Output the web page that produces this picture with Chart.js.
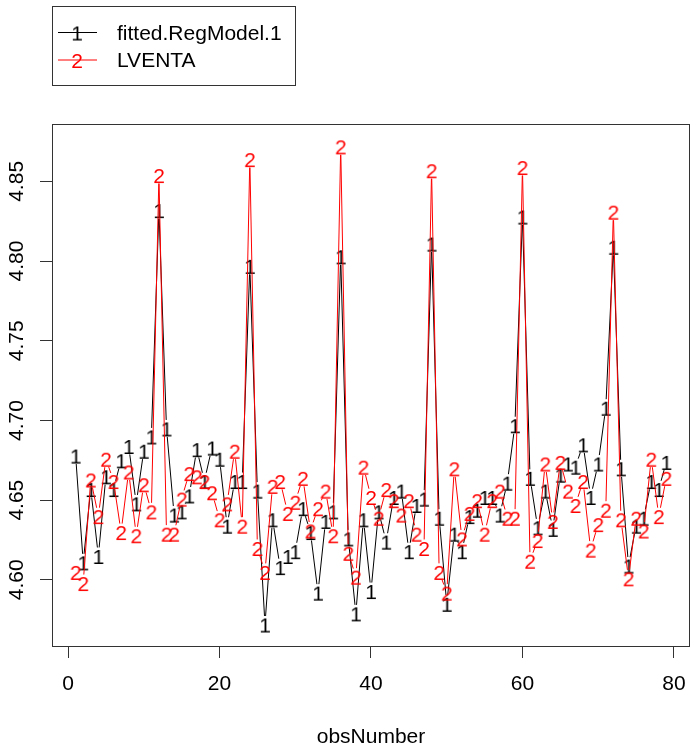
<!DOCTYPE html>
<html>
<head>
<meta charset="utf-8">
<script src="https://cdn.jsdelivr.net/npm/chart.js@4.4.0/dist/chart.umd.min.js"></script>
<style>
html, body { margin: 0; padding: 0; background: #fff; }
#wrap { width: 691px; height: 751px; }
</style>
</head>
<body>
<div id="wrap"><canvas id="grafico" width="691" height="751"></canvas></div>
<script>
// valores (matplot do R, type = "b")
const fitted = [
    4.678, 4.611, 4.657, 4.615, 4.665, 4.657, 4.675, 4.684, 4.648, 4.681,
    4.690, 4.832, 4.695, 4.641, 4.643, 4.653, 4.682, 4.662, 4.683, 4.676,
    4.634, 4.662, 4.662, 4.797, 4.656, 4.572, 4.638, 4.608, 4.615, 4.618,
    4.645, 4.630, 4.592, 4.637, 4.643, 4.803, 4.626, 4.579, 4.638, 4.593,
    4.643, 4.624, 4.652, 4.656, 4.618, 4.647, 4.651, 4.811, 4.639, 4.585,
    4.629, 4.618, 4.640, 4.644, 4.652, 4.652, 4.641, 4.661, 4.697, 4.828,
    4.664, 4.633, 4.656, 4.632, 4.666, 4.673, 4.671, 4.685, 4.652, 4.673,
    4.708, 4.809, 4.670, 4.609, 4.634, 4.639, 4.662, 4.657, 4.674
];
const lventa = [
    4.605, 4.598, 4.663, 4.640, 4.676, 4.662, 4.630, 4.668, 4.628, 4.660,
    4.643, 4.854, 4.629, 4.629, 4.651, 4.667, 4.665, 4.662, 4.655, 4.638,
    4.648, 4.681, 4.634, 4.864, 4.620, 4.605, 4.659, 4.662, 4.642, 4.649,
    4.664, 4.631, 4.645, 4.656, 4.628, 4.872, 4.617, 4.602, 4.671, 4.652,
    4.639, 4.657, 4.650, 4.641, 4.650, 4.629, 4.620, 4.857, 4.605, 4.592,
    4.670, 4.626, 4.642, 4.650, 4.629, 4.650, 4.656, 4.639, 4.639, 4.859,
    4.612, 4.625, 4.673, 4.637, 4.674, 4.656, 4.647, 4.662, 4.619, 4.635,
    4.644, 4.831, 4.638, 4.601, 4.639, 4.631, 4.676, 4.640, 4.664
];
const obsNumber = fitted.map((v, i) => i + 1);
const xTicks = [0, 20, 40, 60, 80];
const yTicks = [4.60, 4.65, 4.70, 4.75, 4.80, 4.85];
const series = ['fitted.RegModel.1', 'LVENTA'];
const symbols = ['1', '2'];
const colors = ['#000000', '#ff0000'];

const familia = '"Liberation Sans", Arial, sans-serif';
const fonte = '21px ' + familia;

// caractere usado como ponto
function simbolo (ch, cor) {
    const c = document.createElement('canvas');
    c.width = 20;
    c.height = 24;
    const g = c.getContext('2d');
    g.font = fonte;
    g.fillStyle = cor;
    g.textAlign = 'center';
    g.textBaseline = 'alphabetic';
    g.fillText(ch, 10, 19.5);
    return c;
}

// linhas com intervalo em volta dos pontos, como o type = "b" do R
const linhasComIntervalo = {
    id: 'linhasComIntervalo',
    beforeDatasetDraw(chart, args) {
        const pts = args.meta.data;
        const ctx = chart.ctx;
        const gap = 8.5;
        ctx.save();
        ctx.strokeStyle = chart.data.datasets[args.index].borderColor;
        ctx.lineWidth = 1;
        ctx.beginPath();
        for (let i = 0; i < pts.length - 1; i++) {
            const a = pts[i], b = pts[i + 1];
            const dx = b.x - a.x, dy = b.y - a.y;
            const d = Math.hypot(dx, dy);
            if (d <= 2 * gap) continue;
            const ux = dx / d, uy = dy / d;
            ctx.moveTo(a.x + ux * gap, a.y + uy * gap);
            ctx.lineTo(b.x - ux * gap, b.y - uy * gap);
        }
        ctx.stroke();
        ctx.restore();
    }
};

const moldura = {
    id: 'moldura',
    afterDraw(chart) {
        const ctx = chart.ctx;
        const area = chart.chartArea;
        const y = chart.scales.y;
        ctx.save();
        ctx.strokeStyle = '#333';
        ctx.lineWidth = 1;
        ctx.strokeRect(area.left + 0.5, area.top + 0.5, area.right - area.left - 1, area.bottom - area.top);

        // rotulos do eixo y, girados
        ctx.fillStyle = '#000';
        ctx.font = fonte;
        ctx.textAlign = 'center';
        ctx.textBaseline = 'alphabetic';
        yTicks.forEach(function(v) {
            ctx.save();
            ctx.translate(23, y.getPixelForValue(v));
            ctx.rotate(-Math.PI / 2);
            ctx.fillText(v.toFixed(2), 0, 0);
            ctx.restore();
        });

        // legenda
        ctx.strokeStyle = '#333';
        ctx.strokeRect(52.5, 6.5, 243, 79);
        series.forEach(function(nome, i) {
            const ly = 32.5 + i * 27.5;
            ctx.strokeStyle = colors[i];
            ctx.beginPath();
            ctx.moveTo(58, ly);
            ctx.lineTo(97, ly);
            ctx.stroke();
            ctx.drawImage(simbolo(symbols[i], colors[i]), 67, ly - 12);
            ctx.fillStyle = '#000';
            ctx.textAlign = 'left';
            ctx.textBaseline = 'middle';
            ctx.fillText(nome, 117, ly + 1.5);
        });
        ctx.restore();
    }
};

const ctx = document.getElementById('grafico');

new Chart(ctx, {
    type: 'scatter',
    data: {
        datasets: [
            {
                label: series[0],
                data: obsNumber.map((x, i) => ({ x: x, y: fitted[i] })),
                borderColor: colors[0],
                pointStyle: simbolo(symbols[0], colors[0]),
                pointRadius: 1,
                showLine: false,
                order: 1
            },
            {
                label: series[1],
                data: obsNumber.map((x, i) => ({ x: x, y: lventa[i] })),
                borderColor: colors[1],
                pointStyle: simbolo(symbols[1], colors[1]),
                pointRadius: 1,
                showLine: false,
                order: 0
            }
        ]
    },
    options: {
        responsive: false,
        animation: false,
        events: [],
        layout: { autoPadding: false, padding: { top: 124, right: 1, left: 0, bottom: 0 } },
        plugins: {
            legend: { display: false },
            tooltip: { enabled: false }
        },
        scales: {
            x: {
                type: 'linear',
                min: -2.12,
                max: 82.12,
                afterBuildTicks: (scale) => { scale.ticks = xTicks.map(v => ({ value: v })); },
                afterFit: (scale) => {
                    scale.height = 105;
                    scale.paddingLeft = 0;
                    scale.paddingRight = 0;
                },
                grid: { drawOnChartArea: false, drawTicks: true, tickLength: 12, color: '#333' },
                border: { display: false },
                ticks: {
                    color: '#000',
                    padding: 14,
                    maxRotation: 0,
                    font: { family: familia, size: 21 },
                    callback: (v) => String(v)
                },
                title: {
                    display: true,
                    text: 'obsNumber',
                    color: '#000',
                    font: { family: familia, size: 21 },
                    padding: { top: 0, bottom: 1 }
                }
            },
            y: {
                type: 'linear',
                min: 4.5585,
                max: 4.886,
                afterBuildTicks: (scale) => { scale.ticks = yTicks.map(v => ({ value: v })); },
                afterFit: (scale) => {
                    scale.width = 52;
                    scale.paddingTop = 0;
                    scale.paddingBottom = 0;
                },
                grid: { drawOnChartArea: false, drawTicks: true, tickLength: 12, color: '#333' },
                border: { display: false },
                ticks: { display: false }
            }
        }
    },
    plugins: [linhasComIntervalo, moldura]
});
</script>
</body>
</html>
